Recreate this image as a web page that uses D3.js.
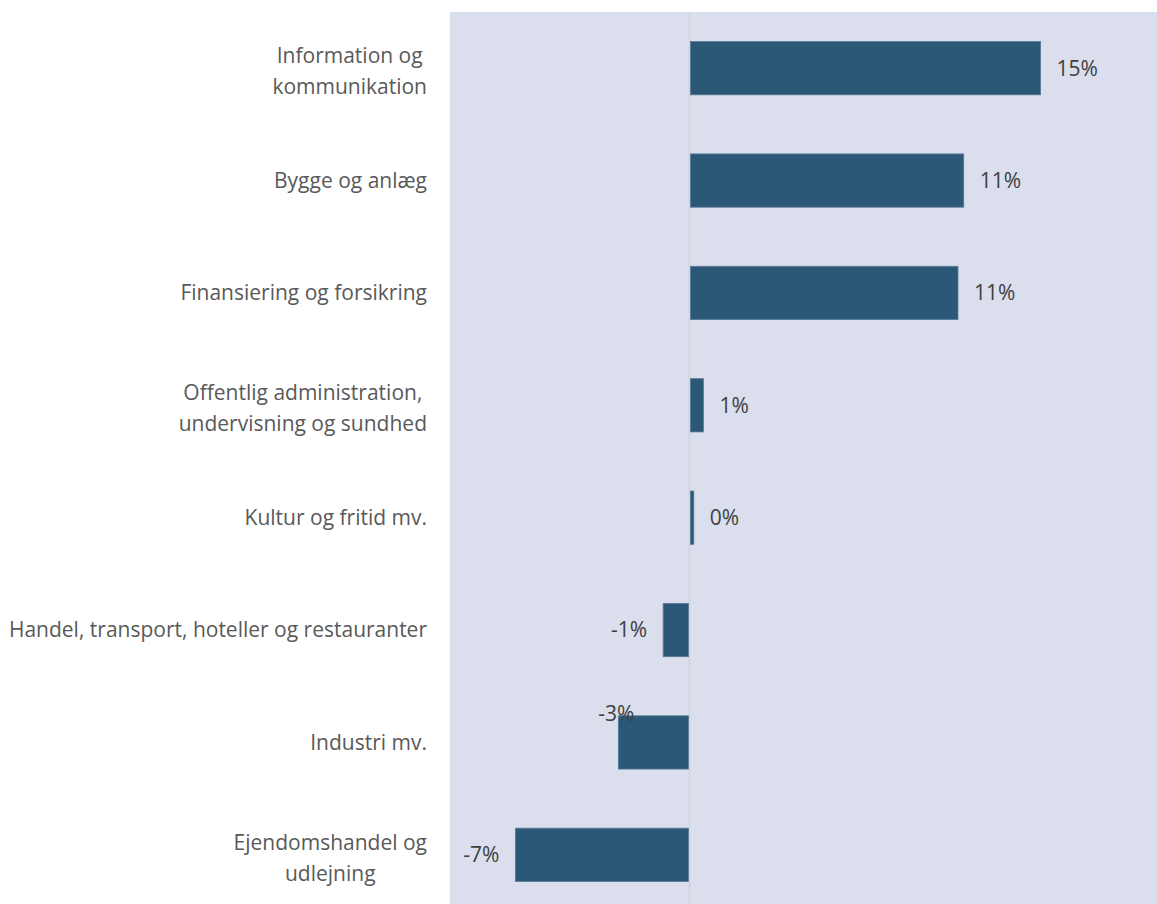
<!DOCTYPE html>
<html lang="da">
<head>
  <meta charset="UTF-8">
  <title>Brancher</title>
  <script src="https://d3js.org/d3.v7.min.js"></script>
  <style>
    body {
      margin: 0;
      background-color: #ffffff;
      font-family: "Open Sans", Arial, sans-serif;
    }
    svg { display: block; }
    .cat-label { font-size: 21px; fill: #595959; }
    .value-label { font-size: 21px; fill: #404040; }
  </style>
</head>
<body>
  <svg id="chart"></svg>
  <script>
    // Categories (line breaks as in the original chart)
    const categories = [
      "Information og\nkommunikation",
      "Bygge og anlæg",
      "Finansiering og forsikring",
      "Offentlig administration,\nundervisning og sundhed",
      "Kultur og fritid mv.",
      "Handel, transport, hoteller og restauranter",
      "Industri mv.",
      "Ejendomshandel og\nudlejning"
    ];

    // Change in percent
    const values = [14.66, 11.45, 11.21, 0.58, 0.18, -1.1, -2.97, -7.27];

    // x domain of the (hidden) value axis
    const xDomain = [-10, 20];

    // the one data label that sits on top of its bar instead of beside it
    const labelOnTop = "Industri mv.";

    const width = 1157, height = 904;
    const plot = { left: 450, top: 12, bottom: 911 };

    const svg = d3.select("#chart")
      .attr("width", width)
      .attr("height", height);

    const x = d3.scaleLinear()
      .domain(xDomain)
      .range([plot.left, plot.left + 30 * 23.95]);

    const y = d3.scaleBand()
      .domain(categories)
      .range([plot.top, plot.bottom])
      .paddingInner(0.526)
      .paddingOuter(0.263);

    // plot area background
    svg.append("rect")
      .attr("x", plot.left)
      .attr("y", plot.top)
      .attr("width", x.range()[1] - plot.left)
      .attr("height", plot.bottom - plot.top)
      .attr("fill", "#dadeed");

    // zero line
    svg.append("line")
      .attr("x1", x(0)).attr("x2", x(0))
      .attr("y1", plot.top).attr("y2", plot.bottom)
      .attr("stroke", "#d3d4dc")
      .attr("stroke-width", 2);

    // bars (leave the zero line visible on either side)
    svg.selectAll("rect.bar")
      .data(categories)
      .enter()
      .append("rect")
      .attr("class", "bar")
      .attr("x", (d, i) => values[i] >= 0 ? x(0) + 1 : x(values[i]))
      .attr("y", d => y(d))
      .attr("width", (d, i) => Math.max(0.5, Math.abs(x(values[i]) - x(0)) - 1))
      .attr("height", y.bandwidth())
      .attr("fill", "#2c5877")
      .attr("stroke", "#587a97")
      .attr("stroke-width", 0.8);

    // value labels
    svg.selectAll("text.value-label")
      .data(categories)
      .enter()
      .append("text")
      .attr("class", "value-label")
      .attr("x", (d, i) => x(values[i]) + (values[i] >= 0 ? 16 : -16))
      .attr("y", d => y(d) + y.bandwidth() / 2)
      .attr("dy", "0.35em")
      .attr("text-anchor", (d, i) => values[i] >= 0 ? "start" : "end")
      .text((d, i) => Math.round(values[i]) + "%")
      .filter(d => d === labelOnTop)
      .attr("x", d => x(values[categories.indexOf(d)]) + 16)
      .attr("y", d => y(d) - 2);

    // category labels: lines centred on each other, block right-aligned
    const labelRight = 427;
    const lineHeight = 31;
    categories.forEach(cat => {
      const lines = cat.split("\n");
      const g = svg.append("g");
      const cy = y(cat) + y.bandwidth() / 2;
      const texts = lines.map((line, i) => g.append("text")
        .attr("class", "cat-label")
        .attr("y", cy + (i - (lines.length - 1) / 2) * lineHeight + (lines.length > 1 ? 3 : 0))
        .attr("dy", "0.35em")
        .attr("text-anchor", "middle")
        .text(line));
      const maxW = d3.max(texts, t => t.node().getComputedTextLength());
      texts.forEach(t => t.attr("x", labelRight - maxW / 2));
    });
  </script>
</body>
</html>
